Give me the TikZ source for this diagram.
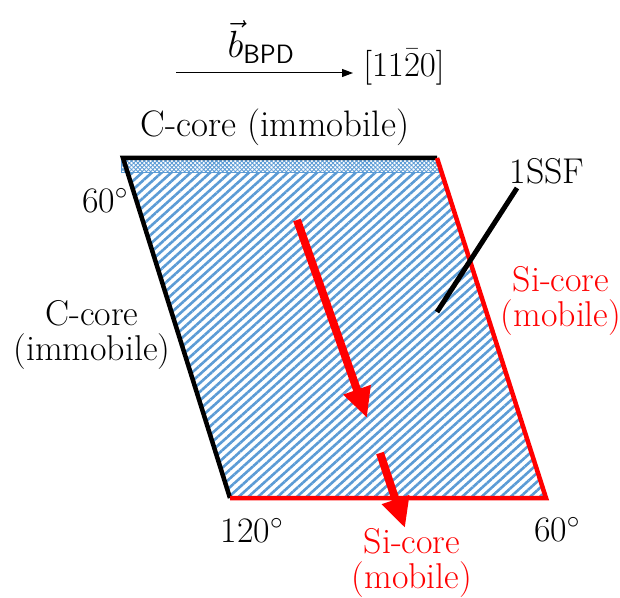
\RequirePackage{fix-cm}
\documentclass[tikz,border=0pt]{standalone}
\usetikzlibrary{arrows.meta,patterns.meta}
\definecolor{hatchblue}{HTML}{5B9BD5}
\definecolor{corered}{HTML}{FF0000}
\tikzset{
  lbl/.style={inner sep=0pt, font=\fontsize{36}{36}\selectfont, align=center},
  edgeline/.style={line width=4.5bp},
  bigarrow/.style={draw=corered, line width=8bp, -{Triangle[length=30bp,width=27bp]}, corered},
}
\begin{document}
\begin{tikzpicture}[x=1bp,y=-1bp]
\useasboundingbox (0,0) rectangle (620,598);
% corners
\coordinate (TL) at (123,158);
\coordinate (TR) at (437,158);
\coordinate (BR) at (546,498);
\coordinate (BL) at (230,498);
% hatched stacking fault
\fill[pattern={Lines[angle=42,distance=6.5bp,line width=2.6bp]}, pattern color=hatchblue]
  (TL) -- (TR) -- (BR) -- (BL) -- cycle;
% top band
\fill[white] (121,159) rectangle (438,172);
\fill[pattern={Lines[angle=45,distance=3bp,line width=0.9bp]}, pattern color=hatchblue] (121,159) rectangle (438,172);
\fill[pattern={Lines[angle=-45,distance=3bp,line width=0.9bp]}, pattern color=hatchblue] (121,159) rectangle (438,172);
\draw[hatchblue, line width=0.8bp] (121,159) rectangle (438,172);
% edges
\draw[edgeline, black] (BL) -- (TL) -- (TR);
\draw[edgeline, corered] (TR) -- (BR) -- (BL);
% red arrows
\coordinate (a1s) at (297,220);
\coordinate (a1e) at (367,418);
\coordinate (a2s) at (380,453);
\coordinate (a2e) at (405,528);
\draw[bigarrow] (a1s) -- (a1e);
\draw[bigarrow] (a2s) -- (a2e);
% 1SSF leader
\coordinate (ls) at (437,312);
\coordinate (le) at (517,188);
\draw[line width=5bp, black] (ls) -- (le);
% Burgers vector arrow
\coordinate (bs) at (176,73);
\coordinate (be) at (353,73);
\draw[line width=1bp, -{Triangle[length=11bp,width=8bp]}] (bs) -- (be);
\node[lbl, font=\fontsize{38}{40}\selectfont] (bvec) at (261,42) {$\vec{b}_{\mathsf{BPD}}$};
\node[lbl, font=\fontsize{35}{38}\selectfont] (dir) at (404,67) {$[11\bar{2}0]$};
% labels
\node[lbl, font=\fontsize{37}{40}\selectfont] (ctop) at (275,127) {C-core (immobile)};
\node[lbl] (a60l) at (105,201) {60$^{\circ}$};
\node[lbl] (cleft) at (92,335) {C-core\\(immobile)};
\node[lbl] (ssf) at (547,171) {1SSF};
\node[lbl, text=corered] (sir) at (561,301) {Si-core\\(mobile)};
\node[lbl] (a120) at (252,531) {120$^{\circ}$};
\node[lbl] (a60r) at (557,530) {60$^{\circ}$};
\node[lbl, text=corered] (sib) at (412,563) {Si-core\\(mobile)};
\end{tikzpicture}
\end{document}
